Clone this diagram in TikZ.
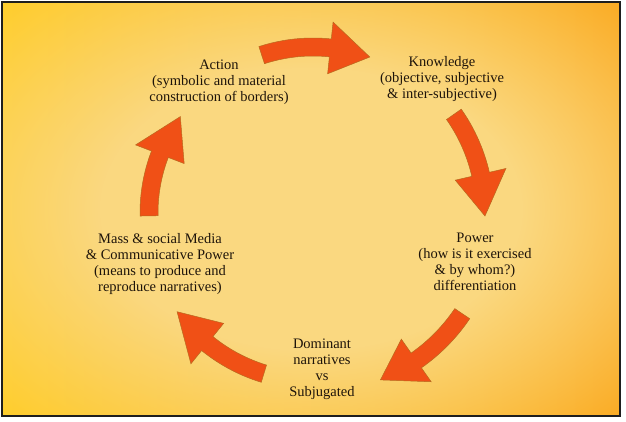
\documentclass[tikz,border=0pt]{standalone}
\usepackage{fontspec}
\setmainfont{Liberation Serif}
\newfontfamily\lblfont{Liberation Serif}
\usetikzlibrary{calc,fadings}
\definecolor{pale}{RGB}{250,216,128}
\definecolor{bgleft}{RGB}{255,206,45}
\definecolor{bgright}{RGB}{250,172,38}
\definecolor{arrowfill}{RGB}{240,80,22}
\definecolor{arrowline}{RGB}{185,105,30}
\definecolor{framecol}{RGB}{30,30,30}
\definecolor{textcol}{RGB}{30,20,10}
\pgfdeclareradialshading{bgfadeshade}{\pgfpoint{0bp}{0bp}}{color(0bp)=(white); color(17bp)=(white); color(35bp)=(black); color(50bp)=(black)}
\pgfdeclarefading{bgfade}{\pgfuseshading{bgfadeshade}}
\newcommand\cycarrow[4]{%
  \filldraw[arrowstyle] ($(C)+({#1}:{#4+9})$) arc[start angle=#1, end angle=#2, radius=#4+9]
    -- ($(C)+({#2}:{#4+26})$) -- ($(C)+({#3}:{#4})$) -- ($(C)+({#2}:{#4-26})$)
    -- ($(C)+({#2}:{#4-9})$) arc[start angle=#2, end angle=#1, radius=#4-9] -- cycle;}
\begin{document}
\begin{tikzpicture}[x=1pt,y=1pt,
  lbl/.style={align=center, inner sep=0pt, font=\lblfont\fontsize{14.5}{16}\selectfont, text=textcol},
  arrowstyle/.style={fill=arrowfill, draw=arrowline, line width=0.5pt}]
\useasboundingbox[fill=white] (0,0) rectangle (626,-421);
\shade[left color=bgleft, right color=bgright] (2,-2) rectangle (620,-416);
\fill[pale, path fading=bgfade] (2,-2) rectangle (620,-416);
\draw[framecol, line width=2pt] (2,-2) rectangle (620,-416);
\coordinate (C) at (313,-213);
\node[lbl] (action) at (219,-82.5) {Action\\(symbolic and material\\construction of borders)};
\node[lbl] (knowledge) at (442,-79.5) {Knowledge\\(objective, subjective\\\& inter-subjective)};
\node[lbl] (power) at (475,-262) {Power\\(how is it exercised\\\& by whom?)\\differentiation};
\node[lbl] (media) at (160,-264) {Mass \& social Media\\\& Communicative Power\\(means to produce and\\reproduce narratives)};
\node[lbl] (dominant) at (322,-369) {Dominant\\narratives\\vs\\Subjugated};
\cycarrow{108}{84}{70}{166}
\cycarrow{35}{13}{-1}{172}
\cycarrow{-34}{-55}{-68}{180}
\cycarrow{-107}{-129}{-144}{168}
\cycarrow{181}{159}{144}{164}
\end{tikzpicture}
\end{document}
